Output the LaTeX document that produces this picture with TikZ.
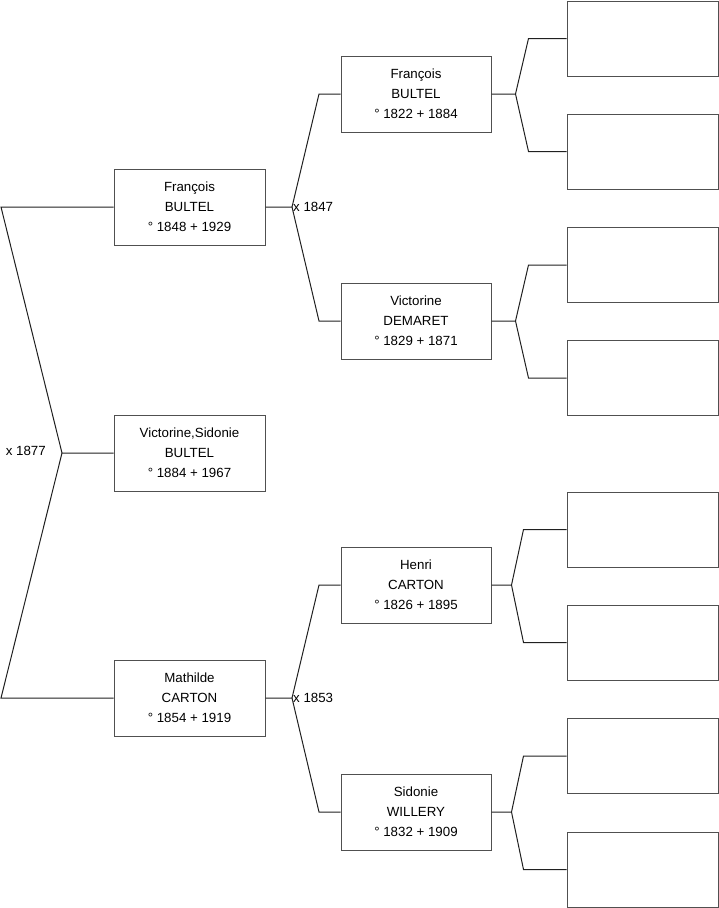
\documentclass[tikz,border=0pt]{standalone}
\usepackage{fontspec}
\setmainfont{Liberation Sans}
\usetikzlibrary{calc}
\definecolor{boxgray}{HTML}{505050}
\definecolor{linkgray}{HTML}{202020}

\begin{document}
\begin{tikzpicture}[x=1pt,y=-1pt,
  person/.style={draw=boxgray,line width=1pt,minimum width=151pt,minimum height=76pt,
    inner sep=0pt,align=center,font=\fontsize{13.3}{20}\selectfont},
  blank/.style={person,minimum height=75pt},
  link/.style={draw=linkgray,line width=1pt},
  marr/.style={font=\fontsize{13.3}{16}\selectfont,inner sep=1pt}]
\useasboundingbox (0,0) rectangle (719,908);
% generations
\node[person] (root) at (189.5,453) {Victorine,Sidonie\\BULTEL\\° 1884 + 1967};
\node[person] (f) at (189.5,207) {François\\BULTEL\\° 1848 + 1929};
\node[person] (m) at (189.5,698) {Mathilde\\CARTON\\° 1854 + 1919};
\node[person,minimum width=150pt] (ff) at (416,94) {François\\BULTEL\\° 1822 + 1884};
\node[person,minimum width=150pt] (fm) at (416,321) {Victorine\\DEMARET\\° 1829 + 1871};
\node[person,minimum width=150pt] (mf) at (416,585) {Henri\\CARTON\\° 1826 + 1895};
\node[person,minimum width=150pt] (mm) at (416,812) {Sidonie\\WILLERY\\° 1832 + 1909};
% parents of the root
\coordinate (j0) at (62,453);
\coordinate (j0-f) at (1,207);
\coordinate (j0-m) at (1,698);
\draw[link] (root.west) -- (j0) -- (j0-f) -- (f.west);
\draw[link] (j0) -- (j0-m) -- (m.west);
\node[marr,anchor=east] (x0) at (47,451) {x 1877};
% grandparents
\coordinate (j1) at (292,207);
\draw[link] (f.east) -- (j1) -- (319,94) coordinate (j1-f) -- (ff.west);
\draw[link] (j1) -- (319,321) coordinate (j1-m) -- (fm.west);
\node[marr,anchor=west] (x1) at (j1) {x 1847};
\coordinate (j2) at (292,698);
\draw[link] (m.east) -- (j2) -- (319,585) coordinate (j2-f) -- (mf.west);
\draw[link] (j2) -- (319,812) coordinate (j2-m) -- (mm.west);
\node[marr,anchor=west] (x2) at (j2) {x 1853};
% empty great-grandparents
\foreach \p/\jx/\bx/\ya/\yb in {ff/24/38/38.5/151.5, fm/24/38/265/378,
                                 mf/20/43/529.5/642.5, mm/20/43/756/869.5}{
  \node[blank] (\p-a) at (642.5,\ya) {};
  \node[blank] (\p-b) at (642.5,\yb) {};
  \coordinate (\p-j) at ($(\p.east)+(\jx,0)$);
  \coordinate (\p-ja) at ($(\p-a.west)-(\bx,0)$);
  \coordinate (\p-jb) at ($(\p-b.west)-(\bx,0)$);
  \draw[link] (\p.east) -- (\p-j) -- (\p-ja) -- (\p-a.west);
  \draw[link] (\p-j) -- (\p-jb) -- (\p-b.west);
}
\end{tikzpicture}
\end{document}
